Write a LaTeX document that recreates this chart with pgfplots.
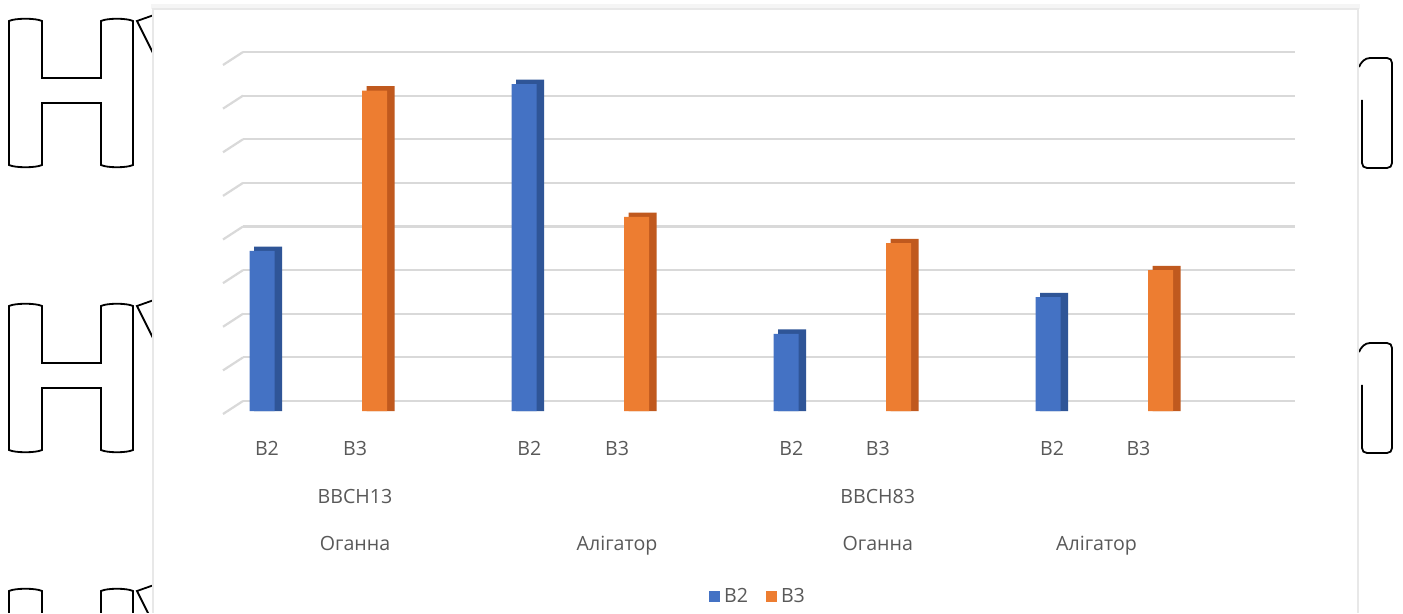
\documentclass[border=0pt]{standalone}
\usepackage{fontspec}
\setmainfont{Open Sans}
\usepackage{pgfplots}
\pgfplotsset{compat=1.18}
\usepackage{pgfplotstable}

\definecolor{bTwo}{HTML}{4472C4}
\definecolor{bTwoDark}{HTML}{2F5597}
\definecolor{bThree}{HTML}{ED7D31}
\definecolor{bThreeDark}{HTML}{C0591E}
\definecolor{gridgray}{HTML}{D9D9D9}
\definecolor{txt}{HTML}{595959}

% one row per bar: x = slot of the category, v = height in grid steps
\pgfplotstableread{
x v
0 3.67
2 7.50
4 1.77
6 2.61
}\seriesBtwo
\pgfplotstableread{
x v
1 7.35
3 4.45
5 3.85
7 3.23
}\seriesBthree

\newcommand{\lblfont}{\fontsize{9.8bp}{11bp}\selectfont}

\begin{document}
\begin{tikzpicture}
% ---------- page frame and the outlined glyphs behind the chart ----------
\begin{scope}[x=0.5bp,y=-0.5bp]
  \path[use as bounding box] (0,0) rectangle (1403,612);
  \begin{scope}
    \clip (0,0) rectangle (1403,612);
    \foreach \dy in {0,285,570} {
      \begin{scope}[shift={(0,\dy)}, line width=0.9bp]
        \draw (9,21) .. controls (15,18) and (36,18) .. (42,21) -- (42,78) -- (101,78) -- (101,21)
              .. controls (107,18) and (127,18) .. (133,21) -- (133,165)
              .. controls (127,168) and (107,168) .. (101,165) -- (101,103) -- (42,103) -- (42,165)
              .. controls (36,168) and (15,168) .. (9,165) -- cycle;
        \draw (154,15) -- (137,21) -- (154,55);
        \draw (1362,100) -- (1362,163) .. controls (1362,166) and (1364,168) .. (1367,168)
              -- (1387,168) .. controls (1390,168) and (1392,166) .. (1392,163) -- (1392,63)
              .. controls (1392,60) and (1390,58) .. (1387,58) -- (1370,58)
              .. controls (1365,58) and (1361,62) .. (1359,67);
      \end{scope}
    }
    % chart area with a soft top edge
    \fill[black!4] (151,4) rectangle (1360,9);
    \filldraw[fill=white, draw=black!9, line width=1bp] (153,9) rectangle (1358,660);
  \end{scope}
\end{scope}

% ---------- back wall with gridlines ----------
\begin{axis}[
  at={(121.5bp,-200.5bp)}, anchor=south west,
  scale only axis, width=526bp, height=174.5bp,
  xmin=0, xmax=1, ymin=0, ymax=8, clip=false,
  axis line style={draw=none},
  xtick=\empty, ytick={0,...,8}, yticklabels={},
  major tick length=0pt,
  ymajorgrids, grid style={draw=gridgray, line width=1.1bp},
]
  \pgfplotsinvokeforeach{0,...,8}{
    \draw[gridgray, line width=1.1bp] (axis cs:0,#1) -- ++(-10bp,-6.5bp);
  }
\end{axis}

% ---------- bars ----------
\begin{axis}[
  at={(121.5bp,-205.5bp)}, anchor=south west,
  scale only axis, width=526bp, height=174.4bp,
  xmin=-0.145, xmax=7.885, ymin=0, ymax=8, clip=false,
  axis line style={draw=none},
  ytick=\empty,
  xtick={0.038,0.71,2.04,2.71,4.04,4.70,6.03,6.69},
  xticklabels={B2,B3,B2,B3,B2,B3,B2,B3},
  major tick length=0pt,
  xticklabel style={anchor=base, yshift=-22bp},
  every tick label/.append style={text=txt, font=\lblfont},
  legend columns=2,
  legend style={at={(0.4905,-0.533)}, anchor=center, draw=none, fill=none,
    font=\lblfont, text=txt,
    /tikz/every even column/.append style={column sep=7bp}},
  legend image code/.code={\fill[#1] (0bp,-2.75bp) rectangle (5.5bp,2.75bp);},
]
  % depth faces (top and right side)
  \addplot[ybar, bar width=14bp, bar shift=3bp, fill=bTwoDark, draw=none, forget plot]
    table[x=x, y expr=\thisrow{v}+0.1] {\seriesBtwo};
  \addplot[ybar, bar width=14bp, bar shift=-6.25bp, fill=bThreeDark, draw=none, forget plot]
    table[x=x, y expr=\thisrow{v}+0.1] {\seriesBthree};
  % front faces
  \addplot[ybar, bar width=12.5bp, bar shift=0bp, fill=bTwo, draw=none]
    table[x=x, y=v] {\seriesBtwo};
  \addlegendentry{B2}
  \addplot[ybar, bar width=12.5bp, bar shift=-9.25bp, fill=bThree, draw=none]
    table[x=x, y=v] {\seriesBthree};
  \addlegendentry{B3}

  % outer category rows
  \begin{scope}[every node/.style={anchor=base, text=txt, font=\lblfont}]
    \node[yshift=-46bp] at (axis cs:0.71,0) {BBCH13};
    \node[yshift=-46bp] at (axis cs:4.70,0) {BBCH83};
    \node[yshift=-69.5bp] at (axis cs:0.71,0) {Оганна};
    \node[yshift=-69.5bp] at (axis cs:2.71,0) {Алігатор};
    \node[yshift=-69.5bp] at (axis cs:4.70,0) {Оганна};
    \node[yshift=-69.5bp] at (axis cs:6.37,0) {Алігатор};
  \end{scope}
\end{axis}
\end{tikzpicture}
\end{document}
